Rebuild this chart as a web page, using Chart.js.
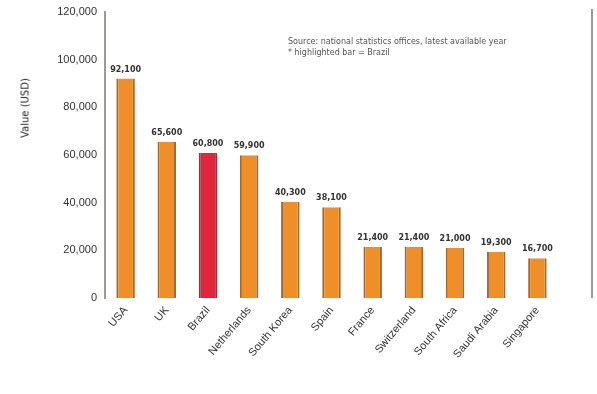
<!DOCTYPE html>
<html lang="en">
<head>
    <meta charset="UTF-8">
    <title>Bar chart</title>
    <script src="https://cdn.jsdelivr.net/npm/chart.js@4.4.1/dist/chart.umd.min.js"></script>
    <style>
        html, body {
            margin: 0;
            padding: 0;
            background: #ffffff;
            font-family: "DejaVu Sans", Arial, sans-serif;
        }
        #wrap {
            position: relative;
            width: 597px;
            height: 394px;
        }
        #note {
            position: absolute;
            left: 288px;
            top: 36px;
            font-size: 8px;
            line-height: 11px;
            color: #555;
        }
        #ytitle {
            position: absolute;
            left: 25px;
            top: 108px;
            transform: translate(-50%, -50%) rotate(-90deg);
            font-size: 10px;
            color: #222;
            white-space: nowrap;
        }
    </style>
</head>
<body>
    <div id="wrap">
        <canvas id="barChart" width="597" height="394"></canvas>
        <div id="note">Source: national statistics offices, latest available year<br>* highlighted bar = Brazil</div>
        <div id="ytitle">Value (USD)</div>
    </div>
    <script>
        const categories = ['USA', 'UK', 'Brazil', 'Netherlands', 'South Korea', 'Spain', 'France',
                            'Switzerland', 'South Africa', 'Saudi Arabia', 'Singapore'];
        const values = [92100, 65600, 60800, 59900, 40300, 38100, 21400, 21400, 21000, 19300, 16700];
        const highlightIndex = 2;
        const yTicks = [0, 20000, 40000, 60000, 80000, 100000, 120000];

        const fmt = v => v.toLocaleString('en-US');

        // value labels above each bar + right frame line
        const extras = {
            id: 'extras',
            afterDatasetsDraw(chart) {
                const ctx = chart.ctx;
                const meta = chart.getDatasetMeta(0);
                ctx.save();
                ctx.font = 'bold 8px "DejaVu Sans", sans-serif';
                ctx.fillStyle = '#333';
                ctx.textAlign = 'center';
                ctx.textBaseline = 'bottom';
                meta.data.forEach((bar, i) => {
                    ctx.fillText(fmt(values[i]), bar.x, bar.y - 5);
                });
                ctx.strokeStyle = '#a09a96';
                ctx.lineWidth = 2;
                ctx.beginPath();
                ctx.moveTo(chart.width - 5, chart.chartArea.top - 3);
                ctx.lineTo(chart.width - 5, chart.chartArea.bottom);
                ctx.stroke();
                ctx.restore();
            }
        };

        new Chart(document.getElementById('barChart'), {
            type: 'bar',
            data: {
                labels: categories,
                datasets: [{
                    data: values,
                    backgroundColor: values.map((_, i) => i === highlightIndex ? '#e0253c' : '#ef8f2a'),
                    borderColor: values.map((_, i) => i === highlightIndex ? '#a03038' : '#a5682f'),
                    borderWidth: { left: 2, right: 2, top: 0, bottom: 0 },
                    categoryPercentage: 0.9,
                    barPercentage: 0.5
                }]
            },
            options: {
                responsive: false,
                animation: false,
                layout: { padding: { top: 12, right: 39, left: 0, bottom: 0 } },
                plugins: {
                    legend: { display: false },
                    tooltip: { enabled: false }
                },
                scales: {
                    x: {
                        grid: { display: false, drawTicks: false },
                        border: { display: false },
                        ticks: {
                            color: '#333',
                            font: { size: 11 },
                            maxRotation: 50,
                            minRotation: 50,
                            padding: 6
                        },
                        afterFit(scale) { scale.height = 96; }
                    },
                    y: {
                        min: 0,
                        max: 120000,
                        afterBuildTicks(scale) { scale.ticks = yTicks.map(v => ({ value: v })); },
                        grid: { display: false, drawTicks: true, tickLength: 5, color: '#a09a96' },
                        border: { display: true, color: '#a09a96', width: 2 },
                        ticks: {
                            color: '#333',
                            font: { size: 11 },
                            callback: v => fmt(v)
                        },
                        afterFit(scale) { scale.width = 105; }
                    }
                }
            },
            plugins: [extras]
        });
    </script>
</body>
</html>
